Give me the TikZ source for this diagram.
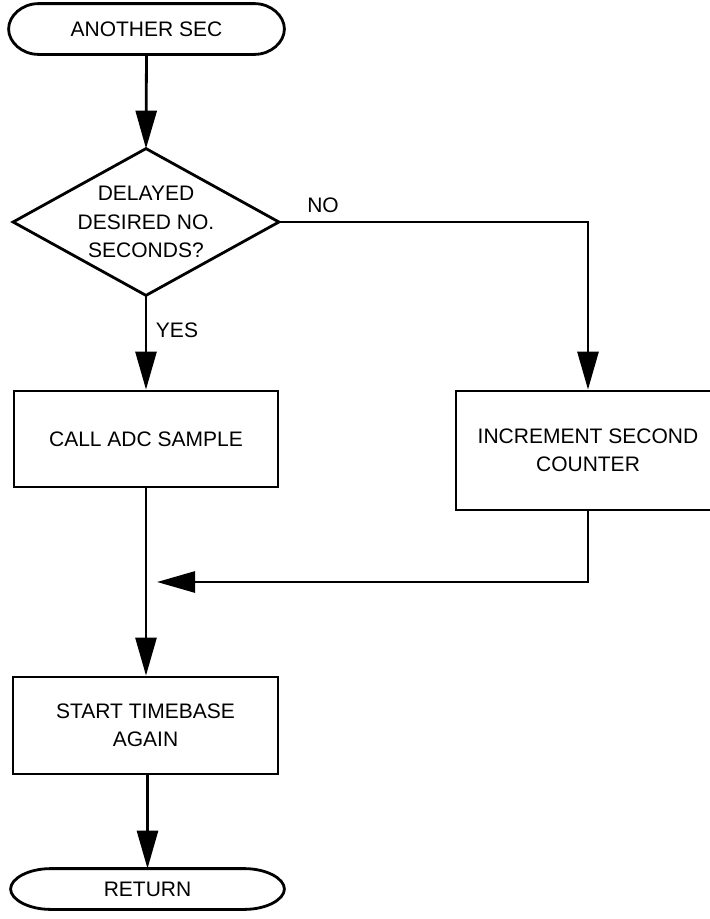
\documentclass[tikz,border=0pt]{standalone}
\usepackage{fontspec}
\setmainfont{Liberation Sans}
\usetikzlibrary{arrows.meta}
% outline of a terminal node with half-elliptical ends: #1 node, #2 x radius, #3 y radius
\newcommand\termoutline[3]{%
  \draw ([xshift=#2]#1.north west) -- ([xshift=-#2]#1.north east)
    .. controls ([xshift={-0.4477*#2}]#1.north east) and ([yshift={0.5523*#3}]#1.east) .. (#1.east)
    .. controls ([yshift={-0.5523*#3}]#1.east) and ([xshift={-0.4477*#2}]#1.south east) .. ([xshift=-#2]#1.south east)
    -- ([xshift=#2]#1.south west)
    .. controls ([xshift={0.4477*#2}]#1.south west) and ([yshift={-0.5523*#3}]#1.west) .. (#1.west)
    .. controls ([yshift={0.5523*#3}]#1.west) and ([xshift={0.4477*#2}]#1.north west) .. ([xshift=#2]#1.north west)
    -- cycle;}
\begin{document}
\begin{tikzpicture}[x=1pt,y=-1pt,
  line width=2.8pt,
  every node/.style={font=\fontsize{21}{28}\selectfont, align=center, inner sep=0pt},
  term/.style={rectangle, minimum height=#1},
  procbox/.style={draw, rectangle},
  flow/.style={-{Triangle[length=38pt,width=21pt]}},
  lbl/.style={anchor=center}]
\useasboundingbox (0,0) rectangle (710,919);

% terminals
\node[term=48pt, minimum width=273pt] (start) at (146.5,29) {ANOTHER SEC};
\termoutline{start}{30pt}{24pt}
\node[term=38pt, minimum width=271pt] (ret) at (147.5,889) {RETURN};
\termoutline{ret}{40pt}{19pt}

% decision: text node whose compass anchors are the diamond corners
\node[minimum width=263pt, minimum height=144pt] (dec) at (146,222)
  {DELAYED\\[0.5pt]DESIRED NO.\\[0.5pt]SECONDS?};
\draw[line join=miter] (dec.north) -- (dec.east) -- (dec.south) -- (dec.west) -- cycle;

% process boxes
\node[procbox, minimum width=264pt, minimum height=96pt] (call) at (146,439) {CALL ADC SAMPLE};
\node[procbox, minimum width=264pt, minimum height=119pt] (inc) at (588,450.5) {INCREMENT SECOND\\COUNTER};
\node[procbox, minimum width=265pt, minimum height=97pt] (tb) at (145.5,725.5) {START TIMEBASE\\AGAIN};

\coordinate (mrg) at (157,582);

% connectors
\draw[flow] (start.south) -- (dec.north);
\draw[flow] (dec.south) -- (call.north);
\draw[flow, line join=miter] (dec.east) -| (inc.north);
\draw[flow, line join=miter] (inc.south) |- (mrg);
\draw[flow] (call.south) -- (tb.north -| call.south);
\draw[flow] (tb.south -| ret.north) -- (ret.north);

% branch labels
\node[lbl] (yes) at (177,330) {YES};
\node[lbl] (no) at (323,205) {NO};
\end{tikzpicture}
\end{document}
